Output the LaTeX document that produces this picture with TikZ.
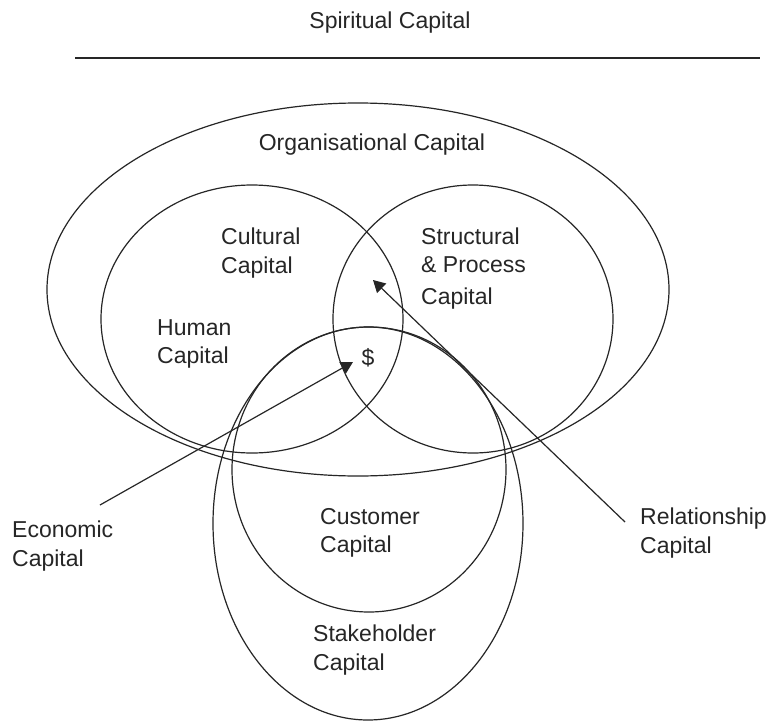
\documentclass[tikz,border=0pt]{standalone}
\usepackage{fontspec}
\setmainfont{Liberation Sans}
\usetikzlibrary{shapes.geometric,arrows.meta}
\begin{document}
\begin{tikzpicture}[x=1pt,y=-1pt,
  ring/.style={draw=black!85, ellipse, inner sep=0pt, outer sep=0pt, line width=1.2pt},
  lbl/.style={font=\fontsize{23}{28.5}\selectfont, align=left, inner sep=0pt, anchor=west, text=black!85},
  ttl/.style={font=\fontsize{23}{28.5}\selectfont, inner sep=0pt, text=black!85},
  ptr/.style={draw=black!85, line width=1.2pt, -{Triangle[length=12pt,width=13pt]}}]
\useasboundingbox[fill=white] (0,0) rectangle (772,726);

% title and rule
\node[ttl] (spirit) at (390,23) {Spiritual Capital};
\coordinate (ruleL) at (75,58);
\coordinate (ruleR) at (760,58);
\draw[black!85, line width=1.2pt] (ruleL) -- (ruleR);

% shapes
\node[ring, minimum width=622pt, minimum height=373pt] (org) at (358,289.5) {};
\node[ring, minimum width=302pt, minimum height=268pt] (human) at (252,319) {};
\node[ring, minimum width=280pt, minimum height=268pt] (struct) at (473,319) {};
\node[ring, minimum width=274pt, minimum height=285pt] (cust) at (369,469.5) {};
\node[ring, minimum width=310pt, minimum height=393pt] (stake) at (368,523.5) {};

% labels
\node[ttl] (orgL) at (372,145) {Organisational Capital};
\node[lbl] (cultL) at (221,253) {Cultural\\Capital};
\node[lbl] (structL) at (421,268.5) {Structural\\\& Process\\[3pt]Capital};
\node[lbl] (humanL) at (157,344) {Human\\Capital};
\node[ttl] (dollar) at (368,358) {\$};
\node[lbl] (custL) at (320,533) {Customer\\Capital};
\node[lbl] (stakeL) at (313,650) {Stakeholder\\Capital};
\node[lbl] (econL) at (12,546) {Economic\\Capital};
\node[lbl] (relL) at (640,533) {Relationship\\Capital};

% arrows
\coordinate (ecoFrom) at (100,505);
\coordinate (ecoTo) at (353,362);
\draw[ptr] (ecoFrom) -- (ecoTo);
\coordinate (relFrom) at (625,522);
\coordinate (relTo) at (373,280);
\draw[ptr] (relFrom) -- (relTo);
\end{tikzpicture}
\end{document}
